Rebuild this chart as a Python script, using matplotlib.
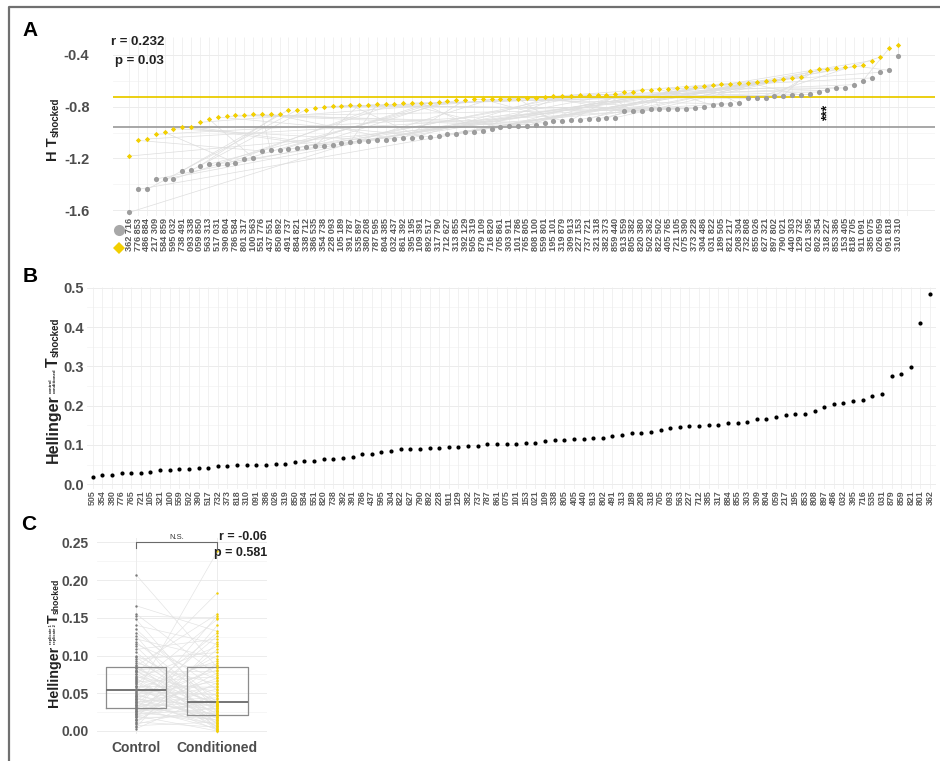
import numpy as np
import matplotlib
matplotlib.use('Agg')
import matplotlib.pyplot as plt

plt.rcParams['font.family'] = ['Liberation Sans', 'DejaVu Sans']

# ---------------- Panel A data ----------------
yellow_ids = ["362", "776", "486", "217", "584", "595", "738", "093", "059", "563",
              "517", "390", "786", "801", "100", "551", "437", "850", "491", "884",
              "338", "386", "354", "228", "105", "391", "535", "380", "787", "804",
              "032", "861", "395", "109", "892", "317", "712", "313", "392", "505",
              "879", "716", "705", "303", "101", "765", "808", "559", "195", "319",
              "309", "227", "737", "321", "382", "859", "913", "805", "820", "502",
              "822", "405", "721", "075", "373", "304", "031", "189", "821", "208",
              "732", "855", "627", "897", "790", "440", "129", "021", "802", "318",
              "853", "153", "818", "911", "385", "026", "091", "310"]
gray_ids = ["716", "853", "884", "309", "859", "032", "491", "338", "850", "313",
            "031", "804", "584", "317", "563", "776", "551", "892", "737", "821",
            "712", "535", "738", "093", "189", "787", "897", "208", "595", "385",
            "437", "392", "195", "391", "517", "790", "627", "855", "129", "319",
            "109", "820", "861", "911", "786", "805", "100", "801", "101", "879",
            "913", "153", "721", "318", "373", "440", "559", "382", "380", "362",
            "502", "765", "105", "390", "228", "486", "822", "505", "217", "304",
            "808", "026", "321", "802", "021", "303", "732", "395", "354", "227",
            "386", "405", "705", "091", "075", "059", "818", "310"]
gray_vals = [-1.618, -1.44, -1.44, -1.36, -1.36, -1.36, -1.295, -1.293, -1.257, -1.246,
             -1.244, -1.241, -1.234, -1.208, -1.195, -1.143, -1.138, -1.138, -1.13, -1.117,
             -1.11, -1.105, -1.105, -1.099, -1.084, -1.074, -1.066, -1.063, -1.061, -1.055,
             -1.053, -1.045, -1.043, -1.037, -1.032, -1.025, -1.014, -1.012, -0.999, -0.994,
             -0.988, -0.976, -0.96, -0.952, -0.947, -0.947, -0.942, -0.926, -0.911, -0.908,
             -0.903, -0.901, -0.898, -0.895, -0.89, -0.885, -0.836, -0.834, -0.834, -0.821,
             -0.818, -0.816, -0.816, -0.816, -0.813, -0.805, -0.787, -0.777, -0.777, -0.775,
             -0.735, -0.733, -0.73, -0.717, -0.715, -0.71, -0.71, -0.705, -0.686, -0.674,
             -0.655, -0.655, -0.63, -0.599, -0.578, -0.534, -0.519, -0.41]
yellow_vals = [-1.182, -1.061, -1.05, -1.014, -0.999, -0.97, -0.955, -0.955, -0.921, -0.895,
               -0.88, -0.875, -0.865, -0.865, -0.86, -0.86, -0.857, -0.854, -0.826, -0.826,
               -0.823, -0.81, -0.8, -0.797, -0.792, -0.787, -0.787, -0.785, -0.782, -0.78,
               -0.78, -0.775, -0.772, -0.772, -0.77, -0.765, -0.755, -0.752, -0.748, -0.743,
               -0.743, -0.741, -0.738, -0.738, -0.738, -0.733, -0.73, -0.723, -0.72, -0.717,
               -0.715, -0.712, -0.712, -0.707, -0.707, -0.705, -0.684, -0.684, -0.671, -0.668,
               -0.666, -0.661, -0.658, -0.65, -0.648, -0.64, -0.632, -0.627, -0.622, -0.614,
               -0.614, -0.612, -0.604, -0.591, -0.583, -0.578, -0.57, -0.524, -0.508, -0.506,
               -0.498, -0.495, -0.485, -0.48, -0.444, -0.415, -0.348, -0.325]
gray_mean_line = -0.956
yellow_mean_line = -0.728
a_yticks = [-1.6, -1.2, -0.8, -0.4]
a_stars_pos = 79
a_stars_val = -0.851

# ---------------- Panel B data ----------------
b_ids = ["505", "354", "380", "776", "765", "721", "105", "321", "100", "559",
         "502", "390", "517", "732", "373", "818", "310", "091", "386", "026",
         "319", "850", "584", "551", "820", "738", "392", "391", "786", "437",
         "595", "304", "822", "627", "790", "892", "228", "911", "129", "382",
         "737", "787", "861", "075", "101", "153", "021", "109", "338", "805",
         "405", "440", "913", "802", "491", "313", "189", "208", "318", "705",
         "093", "563", "227", "712", "385", "317", "884", "855", "303", "309",
         "804", "059", "217", "195", "853", "808", "897", "486", "032", "395",
         "716", "535", "031", "879", "859", "821", "801", "362"]
b_vals = [0.0186, 0.0246, 0.0246, 0.029, 0.029, 0.029, 0.031, 0.036, 0.036, 0.040,
          0.040, 0.0415, 0.042, 0.046, 0.046, 0.048, 0.048, 0.048, 0.048, 0.052,
          0.0525, 0.056, 0.058, 0.059, 0.064, 0.064, 0.067, 0.0695, 0.077, 0.078,
          0.082, 0.084, 0.089, 0.091, 0.091, 0.092, 0.093, 0.094, 0.095, 0.0975,
          0.098, 0.102, 0.102, 0.103, 0.103, 0.105, 0.106, 0.110, 0.113, 0.1135,
          0.115, 0.115, 0.118, 0.1186, 0.122, 0.1246, 0.131, 0.131, 0.134, 0.137,
          0.142, 0.146, 0.149, 0.149, 0.151, 0.152, 0.155, 0.156, 0.158, 0.166,
          0.166, 0.171, 0.176, 0.178, 0.178, 0.186, 0.197, 0.204, 0.208, 0.213,
          0.2136, 0.224, 0.2305, 0.276, 0.2805, 0.299, 0.411, 0.483]
b_yticks = [0.0, 0.1, 0.2, 0.3, 0.4, 0.5]

# ---------------- Panel C data ----------------
c_groups = ["Control", "Conditioned"]
c_control = [0.003, 0.005, 0.007, 0.009, 0.011, 0.012, 0.014, 0.015, 0.016, 0.018,
             0.019, 0.020, 0.021, 0.022, 0.023, 0.024, 0.025, 0.026, 0.027, 0.028,
             0.029, 0.030, 0.031, 0.032, 0.033, 0.034, 0.035, 0.036, 0.037, 0.038,
             0.039, 0.040, 0.041, 0.042, 0.043, 0.044, 0.045, 0.046, 0.047, 0.048,
             0.049, 0.050, 0.052, 0.053, 0.055, 0.056, 0.058, 0.059, 0.060, 0.062,
             0.063, 0.065, 0.066, 0.068, 0.069, 0.070, 0.072, 0.073, 0.075, 0.076,
             0.078, 0.079, 0.080, 0.081, 0.083, 0.084, 0.086, 0.088, 0.090, 0.093,
             0.095, 0.098, 0.100, 0.104, 0.108, 0.112, 0.115, 0.118, 0.122, 0.126,
             0.130, 0.135, 0.140, 0.148, 0.152, 0.155, 0.166, 0.207]
c_conditioned = [0.050, 0.118, 0.012, 0.033, 0.090, 0.005, 0.064, 0.026, 0.140, 0.019,
                 0.042, 0.000, 0.077, 0.030, 0.108, 0.015, 0.056, 0.036, 0.009, 0.153,
                 0.023, 0.070, 0.003, 0.086, 0.038, 0.014, 0.126, 0.029, 0.060, 0.007,
                 0.044, 0.021, 0.100, 0.033, 0.017, 0.081, 0.001, 0.130, 0.027, 0.066,
                 0.011, 0.238, 0.036, 0.048, 0.020, 0.093, 0.006, 0.058, 0.031, 0.148,
                 0.024, 0.072, 0.013, 0.038, 0.112, 0.002, 0.052, 0.028, 0.183, 0.016,
                 0.079, 0.035, 0.010, 0.088, 0.040, 0.022, 0.155, 0.004, 0.062, 0.032,
                 0.104, 0.018, 0.046, 0.026, 0.122, 0.008, 0.068, 0.034, 0.096, 0.000,
                 0.054, 0.037, 0.115, 0.025, 0.150, 0.074, 0.132, 0.084]
c_yticks = [0.0, 0.05, 0.10, 0.15, 0.20, 0.25]

# ---------------- styles ----------------
W, H = 940, 761
YEL = '#F2CF00'
YEL_LINE = '#E9CB00'
GRY = '#9c9c9c'
TXT = '#4d4d4d'
LAB = '#222222'
GRID = '#ececec'
GRID_MINOR = '#f5f5f5'

fig = plt.figure(figsize=(W / 100, H / 100), dpi=100)
renderer = fig.canvas.get_renderer()


def ax_rect(l, r, t, b):
    return [l / W, 1 - b / H, (r - l) / W, (b - t) / H]


def style(ax):
    for s in ax.spines.values():
        s.set_visible(False)
    ax.tick_params(length=0)
    ax.set_axisbelow(True)


def vlabel(y_start, groups):
    """Vertical (rotated) label built from pieces; groups stacked upward.
    Each group: list of (text, fontsize, baseline_x_px)."""
    y = y_start
    for group, gap in groups:
        longest = 0
        for s, fs, xb in group:
            t = fig.text(xb / W, 1 - y / H, s, rotation=90, rotation_mode='anchor',
                         ha='left', va='baseline', fontsize=fs, fontweight='bold', color=LAB)
            bb = t.get_window_extent(renderer=renderer)
            longest = max(longest, bb.height)
        y -= longest + gap


# ---------------- Panel A ----------------
axA = fig.add_axes(ax_rect(113, 935, 37, 216))
style(axA)
n = len(gray_vals)
xs = np.arange(n)
axA.set_xlim(-1.845, 91.18)
axA.set_ylim(-1.646, -0.261)
for yv in [-1.4, -1.0, -0.6]:
    axA.axhline(yv, color=GRID_MINOR, lw=0.6, zorder=0)
for yv in a_yticks:
    axA.axhline(yv, color=GRID, lw=0.7, zorder=0)
axA.vlines(np.arange(n + 1), -1.646, -0.261, color=GRID, lw=0.5, zorder=0)
ypos = {k: i for i, k in enumerate(yellow_ids)}
for i, gid in enumerate(gray_ids):
    if gid in ypos:
        j = ypos[gid]
        axA.plot([i, j], [gray_vals[i], yellow_vals[j]], color='#dedede', lw=0.5, zorder=1)
axA.axhline(yellow_mean_line, color=YEL_LINE, lw=1.3, zorder=2)
axA.axhline(gray_mean_line, color='#a0a0a0', lw=1.3, zorder=2)
axA.plot(xs, gray_vals, 'o', color=GRY, ms=3.7, mew=0, zorder=3)
axA.plot(xs, yellow_vals, 'D', color=YEL, ms=2.7, mew=0, zorder=3)
axA.text(a_stars_pos, a_stars_val, '***', rotation=90, ha='center', va='center',
         fontsize=10, fontweight='bold', color='#111111', zorder=4)
axA.set_yticks(a_yticks)
axA.set_yticklabels(['%.1f' % v for v in a_yticks], fontsize=10.5, fontweight='bold', color=TXT)
axA.tick_params(axis='y', pad=17)
axA.set_xticks(xs)
axA.set_xticklabels([f"{y} {g}" for y, g in zip(yellow_ids, gray_ids)], rotation=90,
                    fontsize=6.6, fontweight='bold', color='#5a5a5a')
axA.tick_params(axis='x', pad=1.5)
fig.add_artist(plt.Line2D([119 / W], [1 - 230 / H], marker='o', color='#a8a8a8', ms=8, mew=0,
                          transform=fig.transFigure))
fig.add_artist(plt.Line2D([119 / W], [1 - 248 / H], marker='D', color=YEL, ms=6.5, mew=0,
                          transform=fig.transFigure))
fig.text(164 / W, 1 - 42 / H, 'r = 0.232', ha='right', va='center', fontsize=9.5,
         fontweight='bold', color=LAB)
fig.text(164 / W, 1 - 61 / H, 'p = 0.03', ha='right', va='center', fontsize=9.5,
         fontweight='bold', color=LAB)
vlabel(161, [([('H T', 10.5, 57)], 0.5),
             ([('shocked', 7, 59)], 0)])

# ---------------- Panel B ----------------
axB = fig.add_axes(ax_rect(87, 936, 287, 489))
style(axB)
nb = len(b_vals)
xb = np.arange(nb)
axB.set_xlim(-0.59, 87.62)
axB.set_ylim(-0.012, 0.5018)
for yv in [0.05, 0.15, 0.25, 0.35, 0.45]:
    axB.axhline(yv, color=GRID_MINOR, lw=0.6, zorder=0)
for yv in b_yticks:
    axB.axhline(yv, color=GRID, lw=0.7, zorder=0)
axB.vlines(xb, -0.012, 0.5018, color=GRID, lw=0.5, zorder=0)
axB.plot(xb, b_vals, 'o', color='black', ms=3.0, mew=0, zorder=3)
axB.set_yticks(b_yticks)
axB.set_yticklabels(['%.1f' % v for v in b_yticks], fontsize=10.5, fontweight='bold', color=TXT)
axB.tick_params(axis='y', pad=2)
axB.set_xticks(xb)
axB.set_xticklabels(b_ids, rotation=90, fontsize=6.4, fontweight='bold', color='#5a5a5a')
axB.tick_params(axis='x', pad=1)
vlabel(463, [([('Hellinger', 11.5, 58)], 1.5),
             ([('control', 3.2, 52), ('conditioned', 3.2, 56)], 1.5),
             ([('T', 11.5, 58)], 0.5),
             ([('shocked', 7, 59)], 0)])

# ---------------- Panel C ----------------
axC = fig.add_axes(ax_rect(97, 267, 538, 734))
style(axC)
axC.set_xlim(0.52, 2.61)
axC.set_ylim(-0.004, 0.2557)
for yv in [0.025, 0.075, 0.125, 0.175, 0.225]:
    axC.axhline(yv, color=GRID_MINOR, lw=0.6, zorder=0)
for yv in c_yticks:
    axC.axhline(yv, color=GRID, lw=0.7, zorder=0)
for xv in [1, 2]:
    axC.axvline(xv, color=GRID, lw=0.7, zorder=0)
for a, b in zip(c_control, c_conditioned):
    axC.plot([1, 2], [a, b], color='#e2e2e2', lw=0.45, zorder=1)
axC.boxplot([c_control, c_conditioned], positions=[1, 2], widths=0.747, whis=0,
            showfliers=False, showcaps=False,
            boxprops=dict(color='#8c8c8c', lw=0.9),
            medianprops=dict(color='#6a6a6a', lw=1.3),
            whiskerprops=dict(lw=0), zorder=2)
axC.scatter(np.full(len(c_control), 1.0), c_control, s=3, color='#7a7a7a', lw=0, zorder=3)
axC.scatter(np.full(len(c_conditioned), 2.0), c_conditioned, s=3, color=YEL, lw=0, zorder=3)
axC.plot([1, 1, 2, 2], [0.243, 0.25, 0.25, 0.243], color='#6a6a6a', lw=0.8, clip_on=False, zorder=4)
axC.text(1.5, 0.2515, 'N.S.', ha='center', va='bottom', fontsize=5.5, color='#333333')
axC.set_yticks(c_yticks)
axC.set_yticklabels(['%.2f' % v for v in c_yticks], fontsize=10, fontweight='bold', color=TXT)
axC.tick_params(axis='y', pad=6)
axC.set_xticks([1, 2])
axC.set_xticklabels(c_groups, fontsize=10, fontweight='bold', color=TXT)
axC.tick_params(axis='x', pad=5)
fig.text(267 / W, 1 - 537 / H, 'r = -0.06', ha='right', va='center', fontsize=9,
         fontweight='bold', color=LAB)
fig.text(267 / W, 1 - 553 / H, 'p = 0.581', ha='right', va='center', fontsize=9,
         fontweight='bold', color=LAB)
vlabel(707, [([('Hellinger', 10.3, 58)], 1.5),
             ([('replicate 1', 2.9, 52), ('replicate 2', 2.9, 56)], 1.5),
             ([('T', 10.3, 58)], 0.5),
             ([('shocked', 6.2, 59)], 0)])

# ---------------- panel letters & border ----------------
for lab, x, y in [('A', 30, 31), ('B', 30, 276), ('C', 29, 524)]:
    fig.text(x / W, 1 - y / H, lab, ha='center', va='center', fontsize=15,
             fontweight='bold', color='black')
fig.add_artist(plt.Line2D([9 / W, 9 / W, 1.0], [0.0, 1 - 7 / H, 1 - 7 / H], color='#707070',
                          lw=1.6, transform=fig.transFigure))

fig.savefig('out.png', dpi=100)
